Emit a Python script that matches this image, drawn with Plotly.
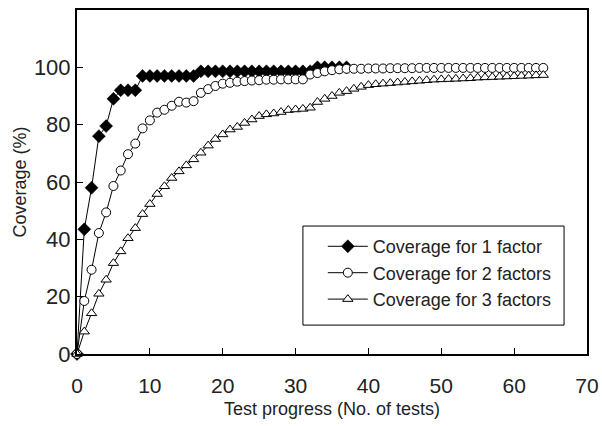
import plotly.graph_objects as go

x1 = [0, 1, 2, 3, 4, 5, 6, 7, 8, 9, 10, 11, 12, 13, 14, 15, 16, 17, 18, 19,
      20, 21, 22, 23, 24, 25, 26, 27, 28, 29, 30, 31, 32, 33, 34, 35, 36, 37]
y1 = [0, 43.5, 58, 76, 79.5, 89, 92, 92, 92, 97, 97, 97, 97, 97, 97, 97, 97,
      98.6, 98.6, 98.6, 98.6, 98.6, 98.6, 98.6, 98.6, 98.6, 98.6, 98.6, 98.6,
      98.6, 98.6, 98.6, 98.6, 100, 100, 100, 100, 100]

x23 = list(range(0, 65))
y2 = [0, 18.5, 29.4, 42.2, 49.4, 58.6, 64, 69.7, 73.4, 78.7, 81.5, 84.2, 85.2,
      86.6, 88, 87.7, 88.2, 91.1, 92.4, 93.5, 94.3, 94.6, 95, 95.2, 95.4, 95.5,
      95.7, 95.7, 95.8, 95.8, 95.8, 95.8, 97.5, 98, 98.6, 99, 99.3, 99.5, 99.5,
      99.5, 99.6, 99.6, 99.6, 99.7, 99.7, 99.7, 99.7, 99.8, 99.8, 99.8, 99.8,
      99.8, 99.8, 99.8, 99.8, 99.8, 99.8, 99.8, 99.8, 99.8, 99.8, 99.8, 99.8,
      99.8, 99.8]
y3 = [0, 7.8, 14.2, 21, 25.9, 31.7, 35.8, 40.4, 43.9, 48.8, 52.3, 55.8, 58.5,
      61.4, 63.7, 65.8, 67.9, 70.2, 72.7, 75, 76.6, 78.3, 79.2, 80.6, 81.8, 83,
      83.6, 83.9, 84.4, 85.1, 85.3, 85.5, 85.9, 87.9, 89, 90, 91.1, 91.7, 92.5,
      93.2, 93.8, 94.1, 94.3, 94.5, 94.7, 94.9, 95.1, 95.3, 95.5, 95.7, 95.8,
      95.9, 96, 96.1, 96.2, 96.4, 96.5, 96.6, 96.7, 96.8, 96.9, 97, 97.1, 97.2,
      97.3]

names = ["Coverage for 1 factor", "Coverage for 2 factors", "Coverage for 3 factors"]
x_ticks = [0, 10, 20, 30, 40, 50, 60, 70]
y_ticks = [0, 20, 40, 60, 80, 100]

FONT = "Arial, Liberation Sans, sans-serif"

fig = go.Figure()
fig.add_trace(go.Scatter(
    x=x1, y=y1, name=names[0], mode="lines+markers", cliponaxis=False,
    line=dict(color="black", width=1),
    marker=dict(symbol="diamond", size=10, color="black", line=dict(color="black", width=0.5))))
fig.add_trace(go.Scatter(
    x=x23, y=y2, name=names[1], mode="lines+markers", cliponaxis=False,
    line=dict(color="black", width=1),
    marker=dict(symbol="circle", size=9, color="white", line=dict(color="black", width=1))))
fig.add_trace(go.Scatter(
    x=x23, y=y3, name=names[2], mode="lines+markers", cliponaxis=False,
    line=dict(color="black", width=1),
    marker=dict(symbol="triangle-up", size=9, color="white", line=dict(color="black", width=1))))

# legend frame drawn as a shape (paper coordinates)
fig.add_shape(type="rect", xref="paper", yref="paper",
              x0=0.443, x1=0.955, y0=0.084, y1=0.372,
              line=dict(color="black", width=1), fillcolor="white", layer="below")

fig.update_layout(
    width=602, height=426,
    margin=dict(l=77, r=15, t=10, b=72),
    paper_bgcolor="white", plot_bgcolor="white",
    font=dict(family=FONT, color="#222222", size=18),
    showlegend=True,
    legend=dict(x=0.482, y=0.366, xanchor="left", yanchor="top",
                bgcolor="rgba(0,0,0,0)", borderwidth=0, itemwidth=40,
                font=dict(size=18, family=FONT, color="#222222"), tracegroupgap=0),
    xaxis=dict(range=[0, 70], tickvals=x_ticks, ticks="inside", ticklen=6,
               tickcolor="black", tickwidth=1, showgrid=False, zeroline=False,
               showline=True, linecolor="black", linewidth=2, mirror=True,
               automargin=False, ticklabelstandoff=12,
               tickfont=dict(size=21, family=FONT),
               title=dict(text="Test progress (No. of tests)", font=dict(size=18), standoff=6)),
    yaxis=dict(range=[0, 120], tickvals=y_ticks, ticks="inside", ticklen=6,
               tickcolor="black", tickwidth=1, showgrid=False, zeroline=False,
               showline=True, linecolor="black", linewidth=2, mirror=True,
               automargin=False,
               tickfont=dict(size=22, family=FONT),
               title=dict(text="Coverage (%)", font=dict(size=18), standoff=3)),
)

fig.write_html("out.html", config={"displayModeBar": False},
               post_script="document.body.style.margin='0';document.body.style.overflow='hidden';")
